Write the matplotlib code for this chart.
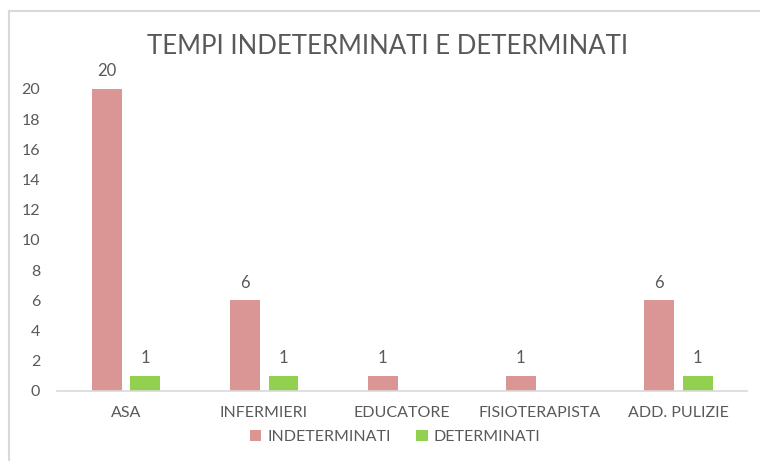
import numpy as np
import matplotlib
matplotlib.use("Agg")
import matplotlib.pyplot as plt
from matplotlib.lines import Line2D

categories = ["ASA", "INFERMIERI", "EDUCATORE", "FISIOTERAPISTA", "ADD. PULIZIE"]
indeterminati = [20, 6, 1, 1, 6]
determinati = [1, 1, None, None, 1]
y_ticks = [0, 2, 4, 6, 8, 10, 12, 14, 16, 18, 20]

plt.rcParams["font.family"] = ["Lato", "DejaVu Sans"]
text_col = "#595959"
pink = "#D99694"
green = "#92D050"
fs = 11.5

fig = plt.figure(figsize=(7.6, 4.61), dpi=100)
ax = fig.add_axes([0.075, 0.152, 0.908, 0.655])

x = np.arange(len(categories))
w = 0.217
off = 0.141
det_vals = [v if v is not None else 0 for v in determinati]

b1 = ax.bar(x - off, indeterminati, w, color=pink, label="INDETERMINATI")
b2 = ax.bar(x + off, det_vals, w, color=green, label="DETERMINATI")

# data labels
for xi, v in zip(x, indeterminati):
    ax.annotate(str(v), (xi - off, v), xytext=(0, 7), textcoords="offset points",
                ha="center", va="bottom", fontsize=12, color=text_col,
                annotation_clip=False)
for xi, v in zip(x, determinati):
    if v is not None:
        ax.annotate(str(v), (xi + off, v), xytext=(0, 7), textcoords="offset points",
                    ha="center", va="bottom", fontsize=12, color=text_col,
                    annotation_clip=False)

ax.set_xlim(-0.5, len(categories) - 0.5)
ax.set_ylim(0, 20)
ax.set_yticks(y_ticks)
ax.set_xticks(x)
ax.set_xticklabels(categories)
ax.tick_params(axis="y", length=0, pad=12, labelsize=fs, labelcolor=text_col)
ax.tick_params(axis="x", length=0, pad=11, labelsize=fs, labelcolor=text_col)

for s in ["top", "right", "left"]:
    ax.spines[s].set_visible(False)
ax.spines["bottom"].set_color("#D9D9D9")
ax.spines["bottom"].set_linewidth(1.2)

fig.text(0.51, 1 - 47 / 461, "TEMPI INDETERMINATI E DETERMINATI", ha="center",
         va="center", fontsize=18.5, color=text_col)

fig.legend(handles=[b1, b2], loc="center", bbox_to_anchor=(0.52, 1 - 437 / 461),
           ncol=2, frameon=False, fontsize=fs, labelcolor=text_col,
           handlelength=0.7, handleheight=0.7, handletextpad=0.4, columnspacing=1.6)

# outer chart border (top and left visible in the crop)
fig.add_artist(Line2D([9 / 760, 9 / 760], [0, 1 - 11 / 461], transform=fig.transFigure,
                      color="#D9D9D9", lw=1.5))
fig.add_artist(Line2D([9 / 760, 1], [1 - 11 / 461, 1 - 11 / 461], transform=fig.transFigure,
                      color="#D9D9D9", lw=1.5))

fig.savefig("out.png", dpi=100)
